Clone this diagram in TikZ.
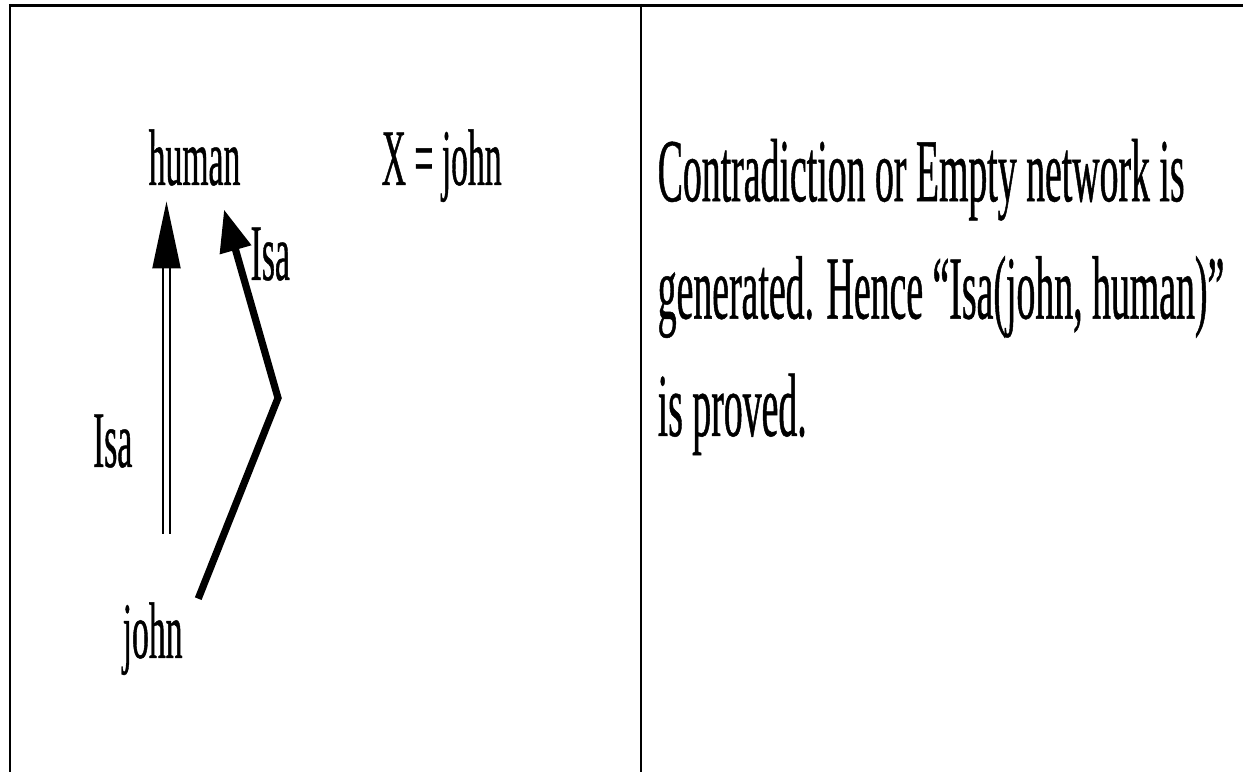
\documentclass[tikz,border=0pt]{standalone}
\usepackage{fontspec}
\setmainfont{Liberation Serif}[FakeStretch=0.42, FakeBold=0.5]
\usepackage{tikz}
\usetikzlibrary{arrows.meta, positioning, calc}

\begin{document}
\begin{tikzpicture}[
    lbl/.style={inner sep=0pt, anchor=base west,
                font=\fontsize{22.8pt}{27pt}\selectfont},
    rule/.style={line width=0.022cm, black},
    dblarr/.style={double, double distance=0.045cm, line width=0.022cm,
                   -{Triangle[length=0.67cm, width=0.28cm]}},
    isaarr/.style={line width=0.072cm,
                   -{Triangle[length=0.42cm, width=0.31cm]}}
  ]
    \useasboundingbox (0,0) rectangle (12.43,7.72);

    % Frame
    \draw[line width=0.035cm] (0.09,7.6625) -- (12.43,7.6625);
    \draw[rule] (0.10,7.68) -- (0.10,0);
    \draw[rule] (6.41,7.68) -- (6.41,0);

    % Network
    \node[lbl] (human) at (1.48, 5.87) {human};
    \node[lbl] (xval) at (3.81, 5.87) {X = john};
    \node[lbl] (john) at (1.22, 1.14) {john};
    \node[lbl, anchor=base east] (isaleft) at (1.33, 3.05) {Isa};
    \node[lbl] (isaright) at (2.50, 4.92) {Isa};

    \coordinate (isatail) at (1.665, 2.38);
    \coordinate (bend) at (2.78, 3.74);

    \draw[dblarr, shorten >=0.15cm] (isatail) -- (isatail |- human.south);
    \draw[isaarr] ($(john.north east)+(0.15,0.03)$) -- (bend)
      -- ($(human.south east)+(-0.17,-0.23)$);

    % Result (base is the last line)
    \node[lbl, align=left, font=\fontsize{25.6pt}{33.4pt}\selectfont] (result)
      at (6.57, 3.36)
      {Contradiction or Empty network is\\
       generated. Hence ``Isa(john, human)''\\
       is proved.};
\end{tikzpicture}
\end{document}
